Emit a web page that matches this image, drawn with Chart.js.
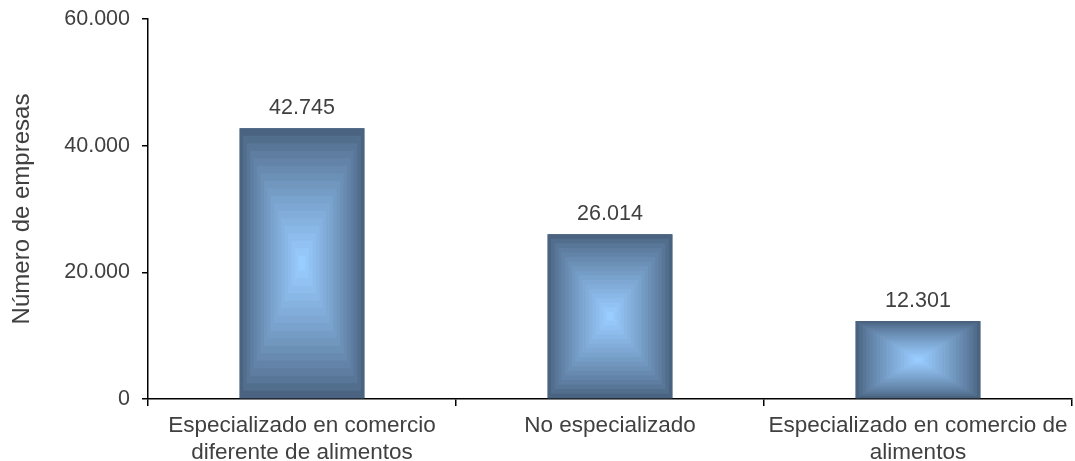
<!DOCTYPE html>
<html>
<head>
<meta charset="utf-8">
<script src="https://cdn.jsdelivr.net/npm/chart.js@4"></script>
<style>
  html, body { margin: 0; padding: 0; background: #ffffff; }
  #wrap { width: 1075px; height: 461px; position: relative; }
</style>
</head>
<body>
<div id="wrap"><canvas id="chart"></canvas></div>
<script>
// Datos del gráfico
const categorias = [
    ['Especializado en comercio', 'diferente de alimentos'],
    'No especializado',
    ['Especializado en comercio de', 'alimentos']
];
const empresas = [42745, 26014, 12301];
const ticksY = [0, 20000, 40000, 60000];

const FUENTE = "'Liberation Sans', Arial, sans-serif";
const GRIS = '#404040';

// Formato con punto de miles
function formatoMiles(v) {
    return String(Math.round(v)).replace(/\B(?=(\d{3})+(?!\d))/g, '.');
}

// Relleno rectangular concéntrico (oscuro en bordes, claro en el centro)
const rellenoRect = {
    id: 'rellenoRect',
    afterDatasetsDraw(chart) {
        const ctx = chart.ctx;
        const meta = chart.getDatasetMeta(0);
        const borde = [74, 99, 128];
        const centro = [153, 204, 255];
        const pasos = 18;
        meta.data.forEach(function(bar) {
            const left = bar.x - bar.width / 2;
            const right = bar.x + bar.width / 2;
            const top = bar.y;
            const bottom = bar.base;
            const cx = (left + right) / 2;
            const cy = (top + bottom) / 2;
            const hw = (right - left) / 2;
            const hh = (bottom - top) / 2;
            ctx.save();
            for (let i = 0; i < pasos; i++) {
                const f = 1 - i / pasos;
                const t = Math.pow(i / (pasos - 1), 0.8);
                const c = borde.map((b, k) => Math.round(b + (centro[k] - b) * t));
                ctx.fillStyle = 'rgb(' + c.join(',') + ')';
                ctx.fillRect(cx - hw * f, cy - hh * f, hw * 2 * f, hh * 2 * f);
            }
            ctx.restore();
        });
    }
};

// Etiquetas de valor sobre las barras
const etiquetas = {
    id: 'etiquetas',
    afterDatasetsDraw(chart) {
        const ctx = chart.ctx;
        const meta = chart.getDatasetMeta(0);
        ctx.save();
        ctx.font = '21.5px ' + FUENTE;
        ctx.fillStyle = GRIS;
        ctx.textAlign = 'center';
        ctx.textBaseline = 'alphabetic';
        meta.data.forEach(function(bar, i) {
            ctx.fillText(formatoMiles(empresas[i]), bar.x, bar.y - 14);
        });
        ctx.restore();
    }
};

new Chart(document.getElementById('chart'), {
    type: 'bar',
    data: {
        labels: categorias,
        datasets: [{
            data: empresas,
            backgroundColor: 'rgb(74,99,128)',
            borderWidth: 0,
            categoryPercentage: 1,
            barPercentage: 0.405
        }]
    },
    options: {
        responsive: true,
        maintainAspectRatio: false,
        animation: false,
        events: [],
        layout: { padding: { top: 0, right: 3, left: 0, bottom: 0 } },
        plugins: {
            legend: { display: false },
            tooltip: { enabled: false }
        },
        scales: {
            x: {
                offset: true,
                grid: {
                    offset: true,
                    drawOnChartArea: false,
                    drawTicks: true,
                    tickLength: 7,
                    color: '#000000',
                    lineWidth: 1.5
                },
                border: { display: true, color: '#000000', width: 1.5 },
                ticks: {
                    color: GRIS,
                    font: { family: FUENTE, size: 22.5 },
                    maxRotation: 0,
                    autoSkip: false,
                    padding: 6
                },
                afterFit(scale) { scale.height = 62; }
            },
            y: {
                min: 0,
                max: 60000,
                afterBuildTicks(scale) {
                    scale.ticks = ticksY.map(v => ({ value: v }));
                },
                grid: {
                    drawOnChartArea: false,
                    drawTicks: true,
                    tickLength: 6,
                    color: '#000000',
                    lineWidth: 1.5
                },
                border: { display: true, color: '#000000', width: 1.5 },
                ticks: {
                    color: GRIS,
                    font: { family: FUENTE, size: 21.5 },
                    padding: 12,
                    callback: v => formatoMiles(v)
                },
                title: {
                    display: true,
                    text: 'Número de empresas',
                    color: GRIS,
                    font: { family: FUENTE, size: 24 },
                    padding: { top: 8, bottom: 0 }
                },
                afterFit(scale) {
                    scale.width = 148;
                    scale.paddingTop = 19;
                }
            }
        }
    },
    plugins: [rellenoRect, etiquetas]
});
</script>
</body>
</html>
